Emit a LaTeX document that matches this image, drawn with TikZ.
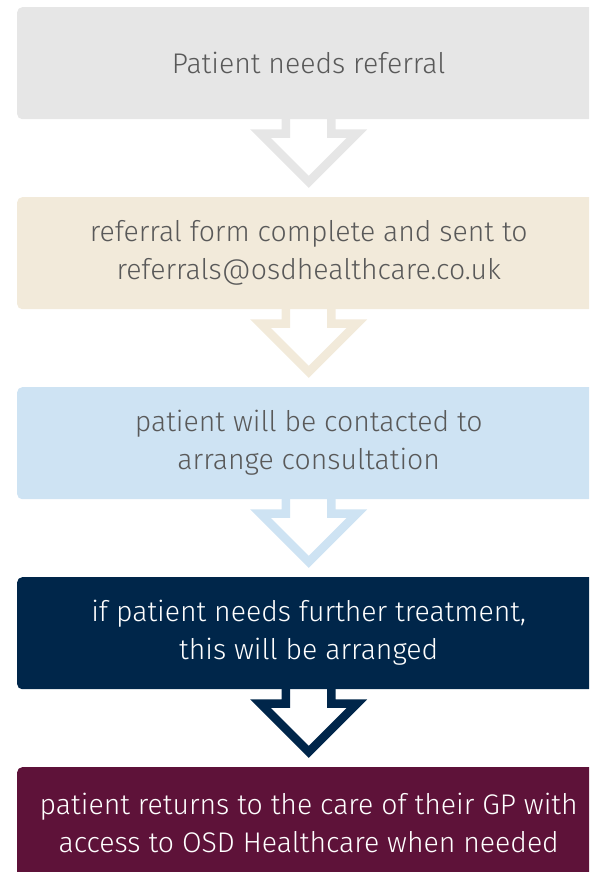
\documentclass[tikz,border=0pt]{standalone}
\usepackage{fontspec}
\setmainfont{Fira Sans}[UprightFont={* Light}]
\usetikzlibrary{calc,backgrounds}
\definecolor{cgray}{HTML}{E6E6E6}
\definecolor{cbeige}{HTML}{F2EADA}
\definecolor{cblue}{HTML}{CEE3F3}
\definecolor{cnavy}{HTML}{00264A}
\definecolor{cmaroon}{HTML}{5E1239}
\definecolor{ctext}{HTML}{595959}
\tikzset{
  box/.style={rectangle, rounded corners=5pt, minimum width=583pt, minimum height=112pt,
    inner sep=0pt, align=center, font=\fontsize{28.4}{38}\selectfont, anchor=north west},
  lightbox/.style={box, text=ctext},
  darkbox/.style={box, text=white},
  blockarrow/.style={line width=8.5pt, line join=miter, fill=white}
}
\newcommand\flowarrow[2]{%
  \draw[blockarrow, draw=#2] ($(#1.south)+(-22.75,-10)$) -- ++(0,24.25) -- ++(-25.5,0)
    -- ++(48.25,48.25) -- ++(48.25,-48.25) -- ++(-25.5,0) -- ++(0,-24.25);}
\begin{document}
\begin{tikzpicture}[x=1pt,y=-1pt]
\useasboundingbox (0,0) rectangle (589,872);
\clip (0,0) rectangle (589,872);
\node[lightbox, fill=cgray] (b1) at (17,7) {Patient needs referral};
\node[lightbox, fill=cbeige] (b2) at (17,197) {referral form complete and sent to\\referrals@osdhealthcare.co.uk};
\node[lightbox, fill=cblue] (b3) at (17,387) {patient will be contacted to\\arrange consultation};
\node[darkbox, fill=cnavy] (b4) at (17,577) {if patient needs further treatment,\\this will be arranged};
\node[darkbox, fill=cmaroon] (b5) at (17,767) {patient returns to the care of their GP with\\access to OSD Healthcare when needed};
\begin{scope}[on background layer]
\flowarrow{b1}{cgray}
\flowarrow{b2}{cbeige}
\flowarrow{b3}{cblue}
\flowarrow{b4}{cnavy}
\end{scope}
\end{tikzpicture}
\end{document}
